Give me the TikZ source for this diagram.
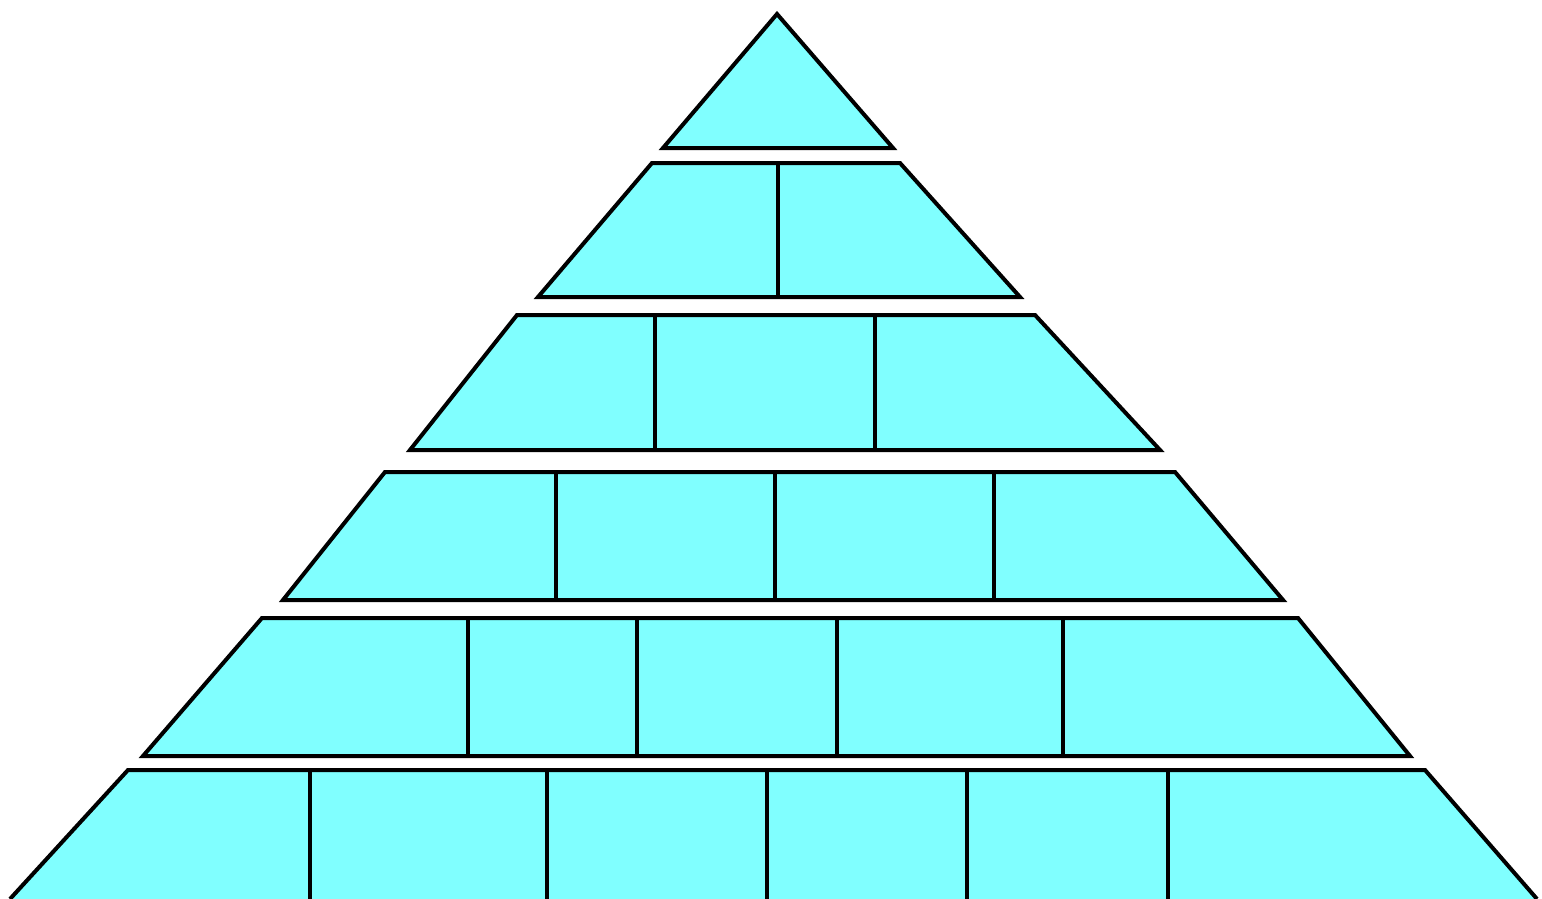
\documentclass[tikz,border=0pt]{standalone}
\definecolor{brick}{RGB}{128,255,255}
\begin{document}
\begin{tikzpicture}[x=1pt,y=-1pt,
  tier/.style={fill=brick,draw=black,line width=4pt,line join=miter},
  divider/.style={draw=black,line width=4pt}]
\useasboundingbox (0,0) rectangle (1542,899);
% tier 1 (apex)
\draw[tier] (777,14) -- (893,148) -- (663,148) -- cycle;
% tier 2
\draw[tier] (652,163) -- (900,163) -- (1020,297) -- (538,297) -- cycle;
\draw[divider] (778,163) -- (778,297);
% tier 3
\draw[tier] (517,315) -- (1035,315) -- (1160,450) -- (410,450) -- cycle;
\foreach \x in {655,875} \draw[divider] (\x,315) -- (\x,450);
% tier 4
\draw[tier] (385,472) -- (1175,472) -- (1283,600) -- (283,600) -- cycle;
\foreach \x in {556,775,994} \draw[divider] (\x,472) -- (\x,600);
% tier 5
\draw[tier] (262,618) -- (1298,618) -- (1410,756) -- (143,756) -- cycle;
\foreach \x in {468,637,837,1063} \draw[divider] (\x,618) -- (\x,756);
% tier 6 (cut off at bottom)
\fill[brick] (128,770) -- (1425,770) -- (1537,899) -- (10,899) -- cycle;
\draw[divider,line join=miter] (10,899) -- (128,770) -- (1425,770) -- (1537,899);
\foreach \x in {310,547,767,967,1168} \draw[divider] (\x,770) -- (\x,899);
\end{tikzpicture}
\end{document}
